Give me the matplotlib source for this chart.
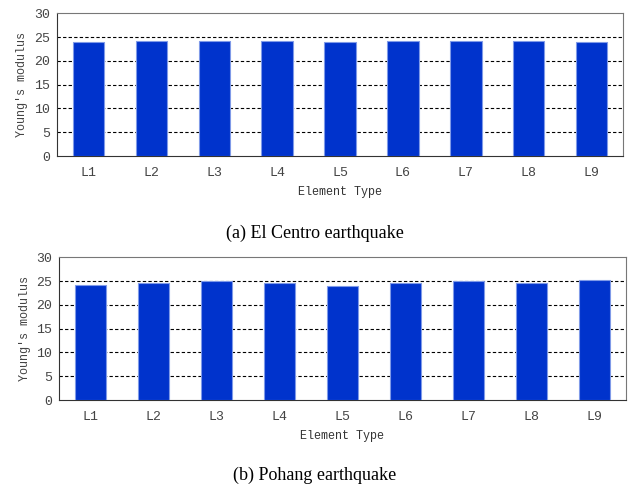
"""
Young's modulus per element type, two earthquake records
"""

import matplotlib
matplotlib.use('Agg')
import matplotlib.pyplot as plt

# Data
elements = ['L1', 'L2', 'L3', 'L4', 'L5', 'L6', 'L7', 'L8', 'L9']
el_centro = [24.0, 24.2, 24.2, 24.2, 24.0, 24.2, 24.2, 24.2, 24.0]
pohang = [24.2, 24.5, 25.0, 24.5, 24.0, 24.5, 24.9, 24.5, 25.2]
yticks = [0, 5, 10, 15, 20, 25, 30]
captions = ['(a) El Centro earthquake', '(b) Pohang earthquake']

plt.rcParams['font.family'] = ['Liberation Mono', 'DejaVu Sans']

fig = plt.figure(figsize=(6.29, 4.88), dpi=100)
ax_a = fig.add_axes([0.0906, 0.680, 0.900, 0.293])
ax_b = fig.add_axes([0.0938, 0.180, 0.901, 0.293])

for ax, values in [(ax_a, el_centro), (ax_b, pohang)]:
    ax.bar(elements, values, width=0.5, color='#0033cc',
           edgecolor='#7f9ae8', linewidth=0.8, zorder=3)
    ax.set_xlim(-0.5, len(elements) - 0.5)
    ax.set_ylim(0, 30)
    ax.set_yticks(yticks)
    for y in yticks[1:-1]:
        ax.axhline(y, color='black', linestyle=(0, (3, 2)), linewidth=0.8, zorder=1)
    ax.tick_params(length=0, labelsize=9.5, labelcolor='#444444', pad=5)
    ax.tick_params(axis='x', pad=8)
    for side in ['top', 'right']:
        ax.spines[side].set_color('#777777')
    for side in ['left', 'bottom']:
        ax.spines[side].set_color('#333333')
    ax.set_xlabel('Element Type', fontsize=8.5, color='#333333', labelpad=5)
    ax.set_ylabel("Young's modulus", fontsize=8.5, color='#444444', labelpad=4)

fig.text(0.5, 1 - 233 / 488, captions[0], ha='center', va='center',
         family='Liberation Serif', fontsize=13)
fig.text(0.5, 1 - 475 / 488, captions[1], ha='center', va='center',
         family='Liberation Serif', fontsize=13)

fig.savefig('out.png', dpi=100)
